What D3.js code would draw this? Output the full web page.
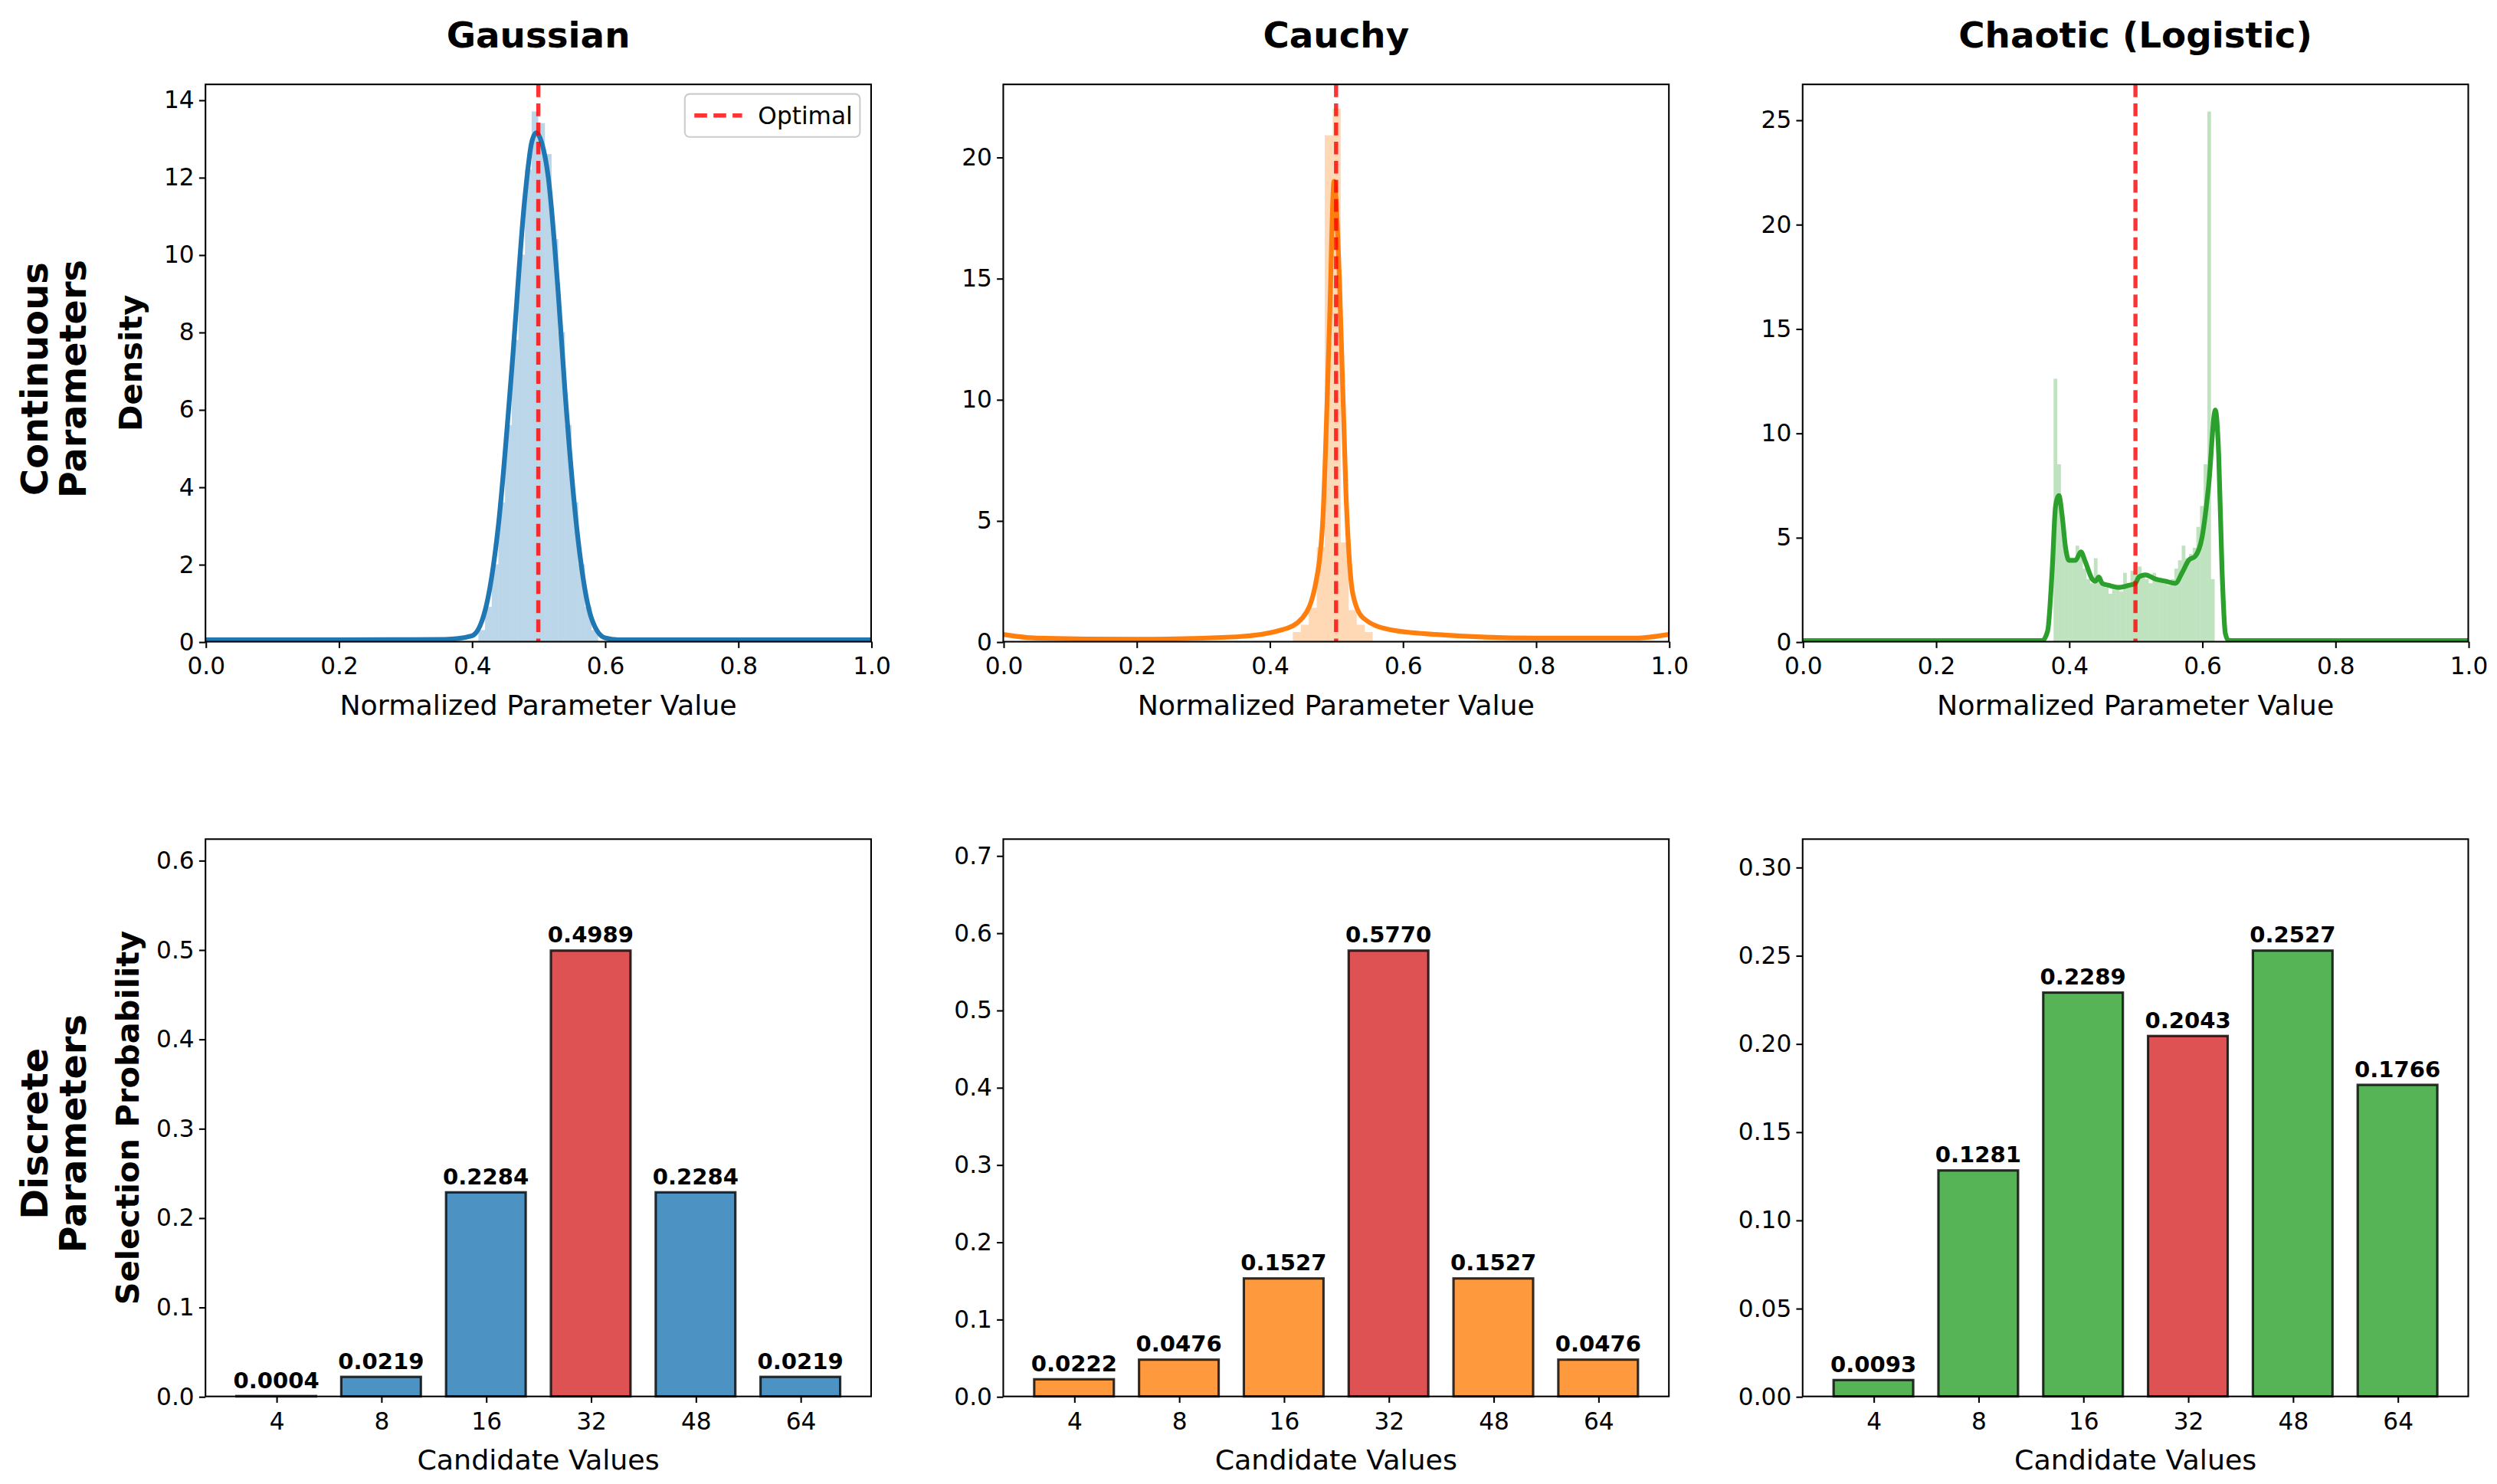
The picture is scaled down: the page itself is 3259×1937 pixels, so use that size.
<!DOCTYPE html>
<html><head><meta charset="utf-8">
<script src="https://cdn.jsdelivr.net/npm/d3@7"></script>
<style>body{margin:0;background:#fff}text{font-family:"DejaVu Sans",sans-serif}</style>
</head><body><svg id="c"></svg>
<script>
const methods = ["Gaussian", "Cauchy", "Chaotic (Logistic)"];
const colors = ["#1f77b4", "#ff7f0e", "#2ca02c"];
const optimal = 0.5;
const candidates = ["4", "8", "16", "32", "48", "64"];
const optimalIndex = 3;
const probGaussian = [0.0004, 0.0219, 0.2284, 0.4989, 0.2284, 0.0219];
const probCauchy = [0.0222, 0.0476, 0.1527, 0.5770, 0.1527, 0.0476];
const probChaotic = [0.0093, 0.1281, 0.2289, 0.2043, 0.2527, 0.1766];
const yMaxTop = [14.4, 23.0, 26.7];
// KDE curves [x, density]
const kdeGaussian = [[0,0.05],[0.2,0.05],[0.36,0.06],[0.40,0.15],[0.42,0.8],[0.44,3.0],[0.46,7.0],[0.48,11.5],[0.49,12.9],[0.497,13.15],[0.505,12.9],[0.515,12.0],[0.53,9.0],[0.54,6.5],[0.56,2.6],[0.58,0.6],[0.60,0.1],[0.62,0.05],[1,0.05]];
const kdeCauchy = [[0,0.3],[0.05,0.15],[0.2,0.1],[0.35,0.2],[0.42,0.5],[0.45,1.0],[0.47,2.5],[0.48,5.0],[0.49,13.0],[0.497,19.0],[0.505,15.0],[0.515,6.0],[0.525,2.0],[0.54,1.0],[0.58,0.5],[0.65,0.3],[0.8,0.15],[0.95,0.15],[1,0.3]];
const kdeChaotic = [[0,0.05],[0.36,0.05],[0.368,0.5],[0.375,3.5],[0.38,6.5],[0.385,7.0],[0.39,6.0],[0.395,4.5],[0.40,3.9],[0.41,3.9],[0.418,4.3],[0.425,3.8],[0.435,3.0],[0.44,2.9],[0.445,3.1],[0.45,2.8],[0.46,2.7],[0.475,2.6],[0.49,2.7],[0.50,2.8],[0.505,3.1],[0.515,3.2],[0.53,3.0],[0.545,2.9],[0.56,2.8],[0.57,3.3],[0.58,3.9],[0.59,4.1],[0.60,5.0],[0.61,7.5],[0.62,11.1],[0.625,9.0],[0.63,3.5],[0.635,0.4],[0.64,0.05],[1,0.05]];
// Histograms: [binStart, binEnd, density]
const histGaussian = [[0.41,0.42,0.3],[0.42,0.43,0.9],[0.43,0.44,2.0],[0.44,0.45,3.6],[0.45,0.46,5.6],[0.46,0.47,7.8],[0.47,0.48,10.0],[0.48,0.49,12.2],[0.49,0.50,13.7],[0.50,0.51,13.4],[0.51,0.52,12.6],[0.52,0.53,10.4],[0.53,0.54,8.0],[0.54,0.55,5.6],[0.55,0.56,3.6],[0.56,0.57,2.0],[0.57,0.58,0.9],[0.58,0.59,0.3]];
const histCauchy = [[0.435,0.447,0.4],[0.447,0.459,0.7],[0.459,0.471,1.4],[0.471,0.483,3.9],[0.483,0.495,20.9],[0.495,0.507,22.0],[0.507,0.519,4.1],[0.519,0.531,1.3],[0.531,0.543,0.7],[0.543,0.555,0.4]];
const histChaoticVals = [12.6,8.5,5.5,4.2,3.8,3.9,4.6,4.3,3.5,3.0,2.8,4.0,2.9,2.7,2.6,2.3,2.5,2.7,2.4,3.3,2.8,3.4,3.2,3.6,3.1,3.0,2.8,3.3,3.0,2.9,2.8,2.7,3.0,3.5,3.9,4.6,4.0,4.2,4.5,5.5,6.5,8.5,25.4,3.0];
const histChaoticStart = 0.377, histChaoticWidth = 0.0055;

const W = 1568, H = 932;
const svg = d3.select("#c").attr("width", 3259).attr("height", 1937).attr("viewBox", `0 0 ${W} ${H}`);
const colX = [129, 630, 1132], aw = 418, ah = 350;
const rowY = [53, 527];
const kdes = [kdeGaussian, kdeCauchy, kdeChaotic];
const hists = [histGaussian, histCauchy, histChaoticVals.map((v,i)=>[histChaoticStart+i*histChaoticWidth, histChaoticStart+(i+1)*histChaoticWidth, v])];
const probs = [probGaussian, probCauchy, probChaotic];
const red = "rgba(255,0,0,0.8)";
const TF = 15;

function axisStyle(g){ g.selectAll("text").attr("font-size",TF).attr("fill","#000"); g.selectAll("line").attr("stroke","#000"); g.select(".domain").remove(); }

methods.forEach((m, i) => {
  svg.append("text").attr("x", colX[i]+aw/2).attr("y", 30).attr("text-anchor","middle").attr("font-size",22.5).attr("font-weight","bold").text(m);
  const g = svg.append("g").attr("transform", `translate(${colX[i]},${rowY[0]})`);
  const x = d3.scaleLinear().domain([0,1]).range([0,aw]);
  const y = d3.scaleLinear().domain([0,yMaxTop[i]]).range([ah,0]);
  g.append("defs").append("clipPath").attr("id","cp"+i).append("rect").attr("width",aw).attr("height",ah);
  const pg = g.append("g").attr("clip-path",`url(#cp${i})`);
  pg.selectAll("rect.h").data(hists[i]).join("rect").attr("x",d=>x(d[0])).attr("width",d=>Math.max(0.6,x(d[1])-x(d[0])))
    .attr("y",d=>y(d[2])).attr("height",d=>ah-y(d[2])).attr("fill",colors[i]).attr("fill-opacity",0.3);
  pg.append("path").datum(kdes[i]).attr("d", d3.line().x(d=>x(d[0])).y(d=>y(d[1])).curve(d3.curveMonotoneX))
    .attr("fill","none").attr("stroke",colors[i]).attr("stroke-width",3);
  pg.append("line").attr("x1",x(optimal)).attr("x2",x(optimal)).attr("y1",0).attr("y2",ah).attr("stroke",red).attr("stroke-width",2.6).attr("stroke-dasharray","8,4");
  g.append("g").attr("transform",`translate(0,${ah})`).call(d3.axisBottom(x).ticks(5).tickFormat(d3.format(".1f")).tickSize(4).tickPadding(6)).call(axisStyle);
  const yt = i===0 ? d3.range(0,15,2) : d3.range(0,yMaxTop[i],5);
  g.append("g").call(d3.axisLeft(y).tickValues(yt).tickSize(4).tickPadding(3)).call(axisStyle);
  g.append("rect").attr("width",aw).attr("height",ah).attr("fill","none").attr("stroke","#000").attr("stroke-width",1);
  g.append("text").attr("x",aw/2).attr("y",ah+46).attr("text-anchor","middle").attr("font-size",17.5).text("Normalized Parameter Value");
  if (i===0) {
    g.append("text").attr("transform",`translate(-40,${ah/2}) rotate(-90)`).attr("text-anchor","middle").attr("font-size",20).attr("font-weight","bold").text("Density");
    const lg = g.append("g").attr("transform",`translate(${aw-117},6)`);
    lg.append("rect").attr("width",110).attr("height",27).attr("rx",3).attr("fill","#fff").attr("stroke","#ccc");
    lg.append("line").attr("x1",6).attr("x2",36).attr("y1",13.5).attr("y2",13.5).attr("stroke",red).attr("stroke-width",2.6).attr("stroke-dasharray","8,4");
    lg.append("text").attr("x",46).attr("y",19).attr("font-size",15).text("Optimal");
  }
  const b = svg.append("g").attr("transform", `translate(${colX[i]},${rowY[1]})`);
  const bx = d3.scaleLinear().domain([-0.675, 5.675]).range([0,aw]);
  const maxP = d3.max(probs[i]);
  const by = d3.scaleLinear().domain([0, maxP*1.25]).range([ah,0]);
  const bw = 0.76;
  const fillFor = (k) => k===optimalIndex ? "#d62728" : colors[i];
  b.selectAll("rect.bar").data(probs[i]).join("rect").attr("x",(d,k)=>bx(k-bw/2)).attr("width",bx(bw)-bx(0))
    .attr("y",d=>by(d)).attr("height",d=>ah-by(d)).attr("fill",(d,k)=>fillFor(k)).attr("fill-opacity",0.8)
    .attr("stroke","#000").attr("stroke-opacity",0.8).attr("stroke-width",1.5);
  b.selectAll("text.v").data(probs[i]).join("text").attr("x",(d,k)=>bx(k)).attr("y",d=>by(d)-5).attr("text-anchor","middle")
    .attr("font-size",14).attr("font-weight","bold").text(d=>d.toFixed(4));
  b.append("g").attr("transform",`translate(0,${ah})`).call(d3.axisBottom(bx).tickValues(d3.range(6)).tickFormat(k=>candidates[k]).tickSize(4).tickPadding(6)).call(axisStyle);
  const step = i===2 ? 0.05 : 0.1;
  const fmt = i===2 ? d3.format(".2f") : d3.format(".1f");
  b.append("g").call(d3.axisLeft(by).tickValues(d3.range(0, maxP*1.25+1e-9, step)).tickFormat(fmt).tickSize(4).tickPadding(3)).call(axisStyle);
  b.append("rect").attr("width",aw).attr("height",ah).attr("fill","none").attr("stroke","#000").attr("stroke-width",1);
  b.append("text").attr("x",aw/2).attr("y",ah+46).attr("text-anchor","middle").attr("font-size",17.5).text("Candidate Values");
  if (i===0) b.append("text").attr("transform",`translate(-42,${ah/2}) rotate(-90)`).attr("text-anchor","middle").attr("font-size",20).attr("font-weight","bold").text("Selection Probability");
});
[["Continuous","Parameters",238],["Discrete","Parameters",712]].forEach(r=>{
  const t = svg.append("text").attr("transform",`translate(30,${r[2]}) rotate(-90)`).attr("text-anchor","middle").attr("font-size",23).attr("font-weight","bold");
  t.append("tspan").attr("x",0).attr("dy",0).text(r[0]);
  t.append("tspan").attr("x",0).attr("dy",24).text(r[1]);
});
</script></body></html>
